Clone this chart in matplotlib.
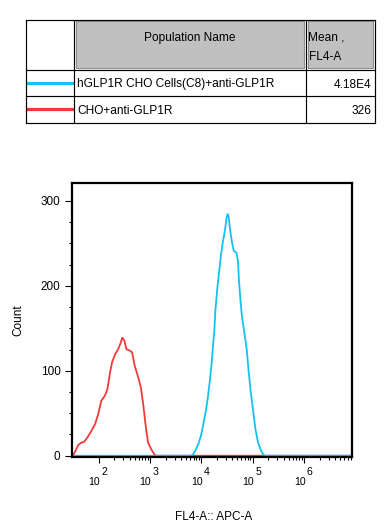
import numpy as np
import matplotlib
matplotlib.use("Agg")
import matplotlib.pyplot as plt
from matplotlib.patches import Rectangle
from matplotlib.ticker import FixedLocator, MultipleLocator, NullFormatter

plt.rcParams['font.family'] = ['Liberation Sans', 'DejaVu Sans']

# ---------------- data ----------------
population_names = ["hGLP1R CHO Cells(C8)+anti-GLP1R", "CHO+anti-GLP1R"]
population_means = ["4.18E4", "326"]
population_colors = ["#12c3f2", "#f23a3a"]
table_headers = ["", "Population Name", "Mean ,\nFL4-A"]

# CHO+anti-GLP1R histogram (log10 FL4-A, count)
red_log10_fl4 = [1.50, 1.55, 1.60, 1.65, 1.72, 1.78, 1.86, 1.93, 1.99, 2.05,
                 2.12, 2.17, 2.22, 2.26, 2.32, 2.38, 2.43, 2.46, 2.50, 2.54,
                 2.61, 2.65, 2.70, 2.77, 2.82, 2.87, 2.91, 2.96, 3.02, 3.08, 3.11]
red_count = [0, 6, 12.5, 15, 16.5, 21.6, 29.4, 37.3, 49, 64.7,
             70.6, 78.4, 98, 110, 119.6, 125.5, 133.3, 139.2, 135.3, 125.5,
             123.5, 121.6, 105.9, 92.2, 80.4, 58.8, 37.3, 15.7, 7.8, 2, 0]

# hGLP1R CHO Cells(C8)+anti-GLP1R histogram
blue_log10_fl4 = [3.80, 3.84, 3.88, 3.94, 3.99, 4.03, 4.08, 4.12, 4.16, 4.20, 4.23,
                  4.25, 4.27, 4.31, 4.36, 4.39, 4.42, 4.46, 4.49, 4.51, 4.53,
                  4.56, 4.60, 4.63, 4.68, 4.71, 4.73, 4.76, 4.79, 4.83, 4.88,
                  4.92, 4.96, 5.01, 5.05, 5.10, 5.16, 5.20, 5.23]
blue_count = [0, 2, 5.9, 13.7, 23.5, 35.3, 51, 66.7, 86.3, 110, 133.4,
              147, 170.6, 198, 225.5, 241, 253, 266.7, 280.5, 285, 280.5,
              264.7, 249, 241, 239, 229.4, 206, 182, 163, 147, 125.5,
              98, 74.6, 51, 31.4, 15.7, 5.9, 2, 0]

x_major_exponents = [2, 3, 4, 5, 6]
y_major_ticks = [0, 100, 200, 300]

# ---------------- figure ----------------
W, H = 387, 531
fig = plt.figure(figsize=(W / 100, H / 100), dpi=100)

# ---- table (pixel coordinates overlay) ----
tab = fig.add_axes([0, 0, 1, 1])
tab.set_xlim(0, W)
tab.set_ylim(H, 0)
tab.axis('off')

col_x = [25.5, 74, 306, 374.5]
row_y = [19.5, 70, 96, 122.5]
fs_tab = 8.6

for c in (1, 2):
    tab.add_patch(Rectangle((col_x[c] + 1.6, row_y[0] + 1.6),
                            col_x[c + 1] - col_x[c] - 3.2, row_y[1] - row_y[0] - 3.2,
                            facecolor='#c0c0c0', edgecolor='#8e8e8e', lw=0.8, zorder=1))
for yy in row_y:
    tab.plot([col_x[0], col_x[-1]], [yy, yy], color='black', lw=0.85, zorder=3,
             solid_capstyle='projecting')
for xx in col_x:
    tab.plot([xx, xx], [row_y[0], row_y[-1]], color='black', lw=0.85, zorder=3,
             solid_capstyle='projecting')

tab.text((col_x[1] + col_x[2]) / 2, 38, table_headers[1], ha='center', va='center',
         fontsize=fs_tab)
for i, line in enumerate(table_headers[2].split("\n")):
    tab.text(col_x[2] + 2.5, 38 + 19 * i, line, ha='left', va='center', fontsize=fs_tab)

for i, (name, mean, col) in enumerate(zip(population_names, population_means, population_colors)):
    yc = (row_y[i + 1] + row_y[i + 2]) / 2
    tab.plot([col_x[0], col_x[1]], [yc - 0.5, yc - 0.5], color=col, lw=2.3, zorder=2,
             solid_capstyle='butt')
    tab.text(col_x[1] + 3, yc + 1.5, name, ha='left', va='center', fontsize=fs_tab)
    tab.text(col_x[3] - 3.5, yc + 1.5, mean, ha='right', va='center', fontsize=fs_tab)

# ---- histogram ----
ax = fig.add_axes([72 / W, 1 - 457 / H, 280 / W, 274 / H])
ax.set_xscale('log')
xmin, xmax = 10 ** 1.48, 10 ** 6.93
ax.set_xlim(xmin, xmax)
ax.set_ylim(-1.5, 321)

for xs, ys, col in ((red_log10_fl4, red_count, population_colors[1]),
                    (blue_log10_fl4, blue_count, population_colors[0])):
    xv = np.concatenate([[xmin], 10.0 ** np.array(xs), [xmax]])
    yv = np.concatenate([[0], ys, [0]])
    ax.plot(xv, yv, color=col, lw=1.3, solid_joinstyle='miter', clip_on=False)

for s in ax.spines.values():
    s.set_linewidth(1.6)

ax.xaxis.set_major_locator(FixedLocator([10.0 ** k for k in x_major_exponents]))
ax.xaxis.set_minor_locator(FixedLocator([m * 10.0 ** k for k in x_major_exponents
                                         for m in range(2, 10)]))
ax.xaxis.set_major_formatter(NullFormatter())
ax.xaxis.set_minor_formatter(NullFormatter())
ax.tick_params(axis='x', which='major', direction='out', length=4.3, width=0.8)
ax.tick_params(axis='x', which='minor', direction='out', length=2.3, width=0.8)

ax.yaxis.set_major_locator(FixedLocator(y_major_ticks))
ax.yaxis.set_minor_locator(MultipleLocator(25))
ax.tick_params(axis='y', which='major', direction='out', length=4.8, width=0.8,
               labelsize=8.5, pad=3.4)
ax.tick_params(axis='y', which='minor', direction='out', length=2.4, width=0.8)

for k in x_major_exponents:
    ax.annotate('10', xy=(10.0 ** k, 0), xycoords=('data', 'axes fraction'),
                xytext=(0.8, -17.8), textcoords='offset points', ha='right', va='center',
                fontsize=7.6, annotation_clip=False)
    ax.annotate(str(k), xy=(10.0 ** k, 0), xycoords=('data', 'axes fraction'),
                xytext=(1.8, -11.0), textcoords='offset points', ha='left', va='center',
                fontsize=7.6, annotation_clip=False)

ax.set_ylabel('Count', fontsize=8.5)
ax.yaxis.set_label_coords((18 - 72) / 280, 0.5)
ax.yaxis.label.set_verticalalignment('center')
ax.set_xlabel('FL4-A:: APC-A', fontsize=8.5)
ax.xaxis.set_label_coords((214 - 72) / 280, (457 - 516.5) / 274)
ax.xaxis.label.set_verticalalignment('center')

fig.savefig('out.png', dpi=100)
